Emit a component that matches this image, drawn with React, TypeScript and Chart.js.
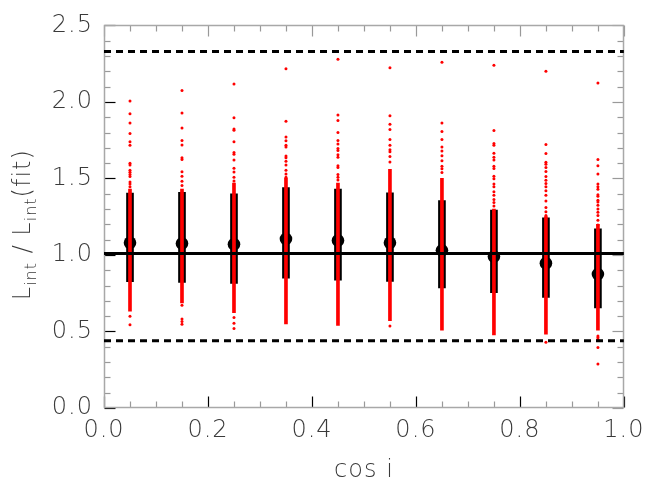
import { useEffect, useRef } from "react";
import { Chart, registerables } from "chart.js";

Chart.register(...registerables);

// ---- data ----
const binCenters = [0.05, 0.15, 0.25, 0.35, 0.45, 0.55, 0.65, 0.75, 0.85, 0.95];
const binMeans = [1.08, 1.075, 1.07, 1.105, 1.095, 1.08, 1.03, 0.99, 0.946, 0.875];
const errLow = [0.825, 0.82, 0.814, 0.848, 0.836, 0.827, 0.785, 0.754, 0.723, 0.654];
const errHigh = [1.405, 1.41, 1.4, 1.44, 1.43, 1.406, 1.356, 1.294, 1.242, 1.17];
// dense (continuous-looking) core of the red sample points in each bin
const coreLow = [0.633, 0.686, 0.623, 0.55, 0.54, 0.571, 0.508, 0.477, 0.483, 0.508];
const coreHigh = [1.43, 1.43, 1.47, 1.5, 1.47, 1.56, 1.5, 1.3, 1.25, 1.2];
// individually visible sample points outside the cores
const tailBin1 = [2.006, 1.923, 1.863, 1.794, 1.74, 1.717, 1.6, 1.588, 1.554, 1.54, 1.525, 1.513, 1.477, 1.463, 1.446, 0.6, 0.544];
const tailBin2 = [2.075, 1.927, 1.83, 1.748, 1.719, 1.636, 1.623, 1.544, 1.515, 1.481, 1.454, 0.671, 0.581, 0.565, 0.548];
const tailBin3 = [2.117, 1.896, 1.823, 1.815, 1.74, 1.669, 1.658, 1.621, 1.567, 1.542, 1.508, 1.483, 0.592, 0.554, 0.519];
const tailBin4 = [2.217, 1.873, 1.771, 1.746, 1.717, 1.706, 1.646, 1.636, 1.613, 1.588, 1.554, 1.529, 1.508];
const tailBin5 = [2.279, 1.915, 1.879, 1.8, 1.748, 1.725, 1.696, 1.683, 1.654, 1.638, 1.583, 1.571, 1.525, 1.508, 1.49];
const tailBin6 = [2.223, 1.91, 1.854, 1.819, 1.754, 1.717, 1.688, 1.675, 1.644, 1.608, 0.535];
const tailBin7 = [2.26, 1.863, 1.806, 1.754, 1.706, 1.679, 1.648, 1.615, 1.579, 1.563, 1.538];
const tailBin8 = [2.24, 1.813, 1.729, 1.717, 1.665, 1.638, 1.621, 1.58, 1.565, 1.515, 1.498, 1.463, 1.446, 1.413, 1.39, 1.363, 1.342, 1.32];
const tailBin9 = [2.2, 1.721, 1.663, 1.606, 1.592, 1.571, 1.546, 1.513, 1.488, 1.467, 1.446, 1.419, 1.39, 1.352, 1.31, 1.283, 1.258, 0.429];
const tailBin10 = [2.123, 1.623, 1.583, 1.529, 1.463, 1.446, 1.429, 1.394, 1.383, 1.358, 1.346, 1.325, 1.3, 1.279, 1.258, 1.227, 1.196, 0.47, 0.46, 0.45, 0.396, 0.288];
const tails = [tailBin1, tailBin2, tailBin3, tailBin4, tailBin5, tailBin6, tailBin7, tailBin8, tailBin9, tailBin10];
const refLevel = 1.01;
const upperLevel = 2.33;
const lowerLevel = 0.44;
const xRange = [0, 1];
const yRange = [0, 2.5];

const FONT = "'DejaVu Sans', sans-serif";
const TEXT = "#3a3a3a";

const framePlugin = {
  id: "idlFrame",
  beforeDatasetsDraw(chart: any) {
    const { ctx, chartArea: a, scales } = chart;
    const xs = scales.x;
    const ys = scales.y;
    const seg = (x1: number, y1: number, x2: number, y2: number, c: string) => {
      ctx.strokeStyle = c;
      ctx.beginPath();
      ctx.moveTo(x1, y1);
      ctx.lineTo(x2, y2);
      ctx.stroke();
    };
    ctx.save();
    ctx.lineWidth = 1.2;
    const L = Math.round(a.left) + 0.5;
    const R = Math.round(a.right) - 0.5;
    const T = Math.round(a.top) + 0.5;
    const B = Math.round(a.bottom) - 0.5;
    for (let i = 0; i <= 25; i++) {
      const py = Math.round(ys.getPixelForValue(i / 10)) + 0.5;
      const major = i % 5 === 0;
      const len = major ? 11 : 6;
      seg(L, py, L + len, py, major ? "#000" : "#999");
      seg(R, py, R - len, py, "#999");
    }
    for (let i = 0; i <= 20; i++) {
      const px = Math.round(xs.getPixelForValue(i / 20)) + 0.5;
      const major = i % 4 === 0;
      const len = major ? 11 : 6;
      seg(px, B, px, B - len, major ? "#000" : "#999");
      seg(px, T, px, T + len, "#999");
    }
    ctx.lineWidth = 1.5;
    ctx.strokeStyle = "#a8a8a8";
    ctx.strokeRect(L, T, R - L, B - T);
    ctx.restore();
  },
  afterDraw(chart: any) {
    const { ctx, chartArea: a } = chart;
    ctx.save();
    ctx.fillStyle = TEXT;
    ctx.textBaseline = "alphabetic";
    ctx.textAlign = "left";
    const big = `200 24px ${FONT}`;
    const small = `200 16px ${FONT}`;
    const parts: [string, string, number][] = [
      ["L", big, 0],
      ["int", small, 6],
      [" / ", big, 0],
      ["L", big, 0],
      ["int", small, 6],
      ["(fit)", big, 0],
    ];
    (ctx as any).letterSpacing = "1px";
    let total = 0;
    for (const [t, f] of parts) {
      ctx.font = f;
      total += ctx.measureText(t).width;
    }
    const cy = (a.top + a.bottom) / 2 + 8;
    ctx.translate(30, cy);
    ctx.rotate(-Math.PI / 2);
    let x = -total / 2;
    for (const [t, f, dy] of parts) {
      ctx.font = f;
      ctx.fillText(t, x, dy);
      x += ctx.measureText(t).width;
    }
    ctx.restore();
  },
  beforeDraw(chart: any) {
    (chart.ctx as any).letterSpacing = "1px";
  },
};

export default function App() {
  const ref = useRef<HTMLCanvasElement>(null);
  useEffect(() => {
    document.body.style.margin = "0";
    const points = tails.flatMap((arr, i) => arr.map((v) => ({ x: binCenters[i], y: v })));
    const chart = new Chart(ref.current!, {
      type: "scatter",
      data: {
        datasets: [
          {
            type: "line",
            data: xRange.map((x) => ({ x, y: refLevel })),
            borderColor: "#000",
            borderWidth: 3,
            pointRadius: 0,
            order: 0,
          } as any,
          {
            type: "line",
            data: xRange.map((x) => ({ x, y: upperLevel })),
            borderColor: "#000",
            borderWidth: 3,
            borderDash: [7, 5],
            pointRadius: 0,
            order: 0,
          },
          {
            type: "line",
            data: xRange.map((x) => ({ x, y: lowerLevel })),
            borderColor: "#000",
            borderWidth: 3,
            borderDash: [7, 5],
            pointRadius: 0,
            order: 0,
          },
          {
            type: "scatter",
            data: points,
            backgroundColor: "#ff0000",
            borderWidth: 0,
            pointRadius: 1.5,
            order: 1,
          },
          {
            type: "bar",
            data: binCenters.map((x, i) => ({ x, y: [coreLow[i], coreHigh[i]] })),
            backgroundColor: "#ff0000",
            barThickness: 3,
            grouped: false,
            order: 2,
          } as any,
          {
            type: "scatter",
            data: binCenters.map((x, i) => ({ x, y: binMeans[i] })),
            backgroundColor: "#000",
            borderWidth: 0,
            pointRadius: 6.3,
            order: 3,
          },
          {
            type: "bar",
            data: binCenters.map((x, i) => ({ x, y: [errLow[i], errHigh[i]] })),
            backgroundColor: "#000",
            barThickness: 7,
            grouped: false,
            order: 4,
          } as any,
        ],
      },
      options: {
        responsive: false,
        animation: false,
        layout: { padding: { top: 8, right: 21, left: 0, bottom: 0 } },
        plugins: { legend: { display: false }, tooltip: { enabled: false } },
        scales: {
          x: {
            type: "linear",
            min: xRange[0],
            max: xRange[1],
            offset: false,
            grid: { display: false, drawTicks: false },
            border: { display: false },
            ticks: {
              stepSize: 0.2,
              maxRotation: 0,
              autoSkip: false,
              padding: 8,
              color: TEXT,
              font: { family: FONT, size: 24, weight: "200" as any },
              callback: (v: any) => Number(v).toFixed(1),
            },
            title: {
              display: true,
              text: "cos i",
              color: TEXT,
              font: { family: FONT, size: 24, weight: "200" as any },
              padding: { top: 0, bottom: 0 },
            },
            afterFit: (s: any) => {
              s.height = 77;
            },
          },
          y: {
            type: "linear",
            min: yRange[0],
            max: yRange[1],
            grid: { display: false, drawTicks: false },
            border: { display: false },
            ticks: {
              stepSize: 0.5,
              padding: 11,
              color: TEXT,
              font: { family: FONT, size: 24, weight: "200" as any },
              callback: (v: any) => Number(v).toFixed(1),
            },
            afterFit: (s: any) => {
              s.width = 104;
            },
          },
        },
      },
      plugins: [framePlugin],
    });
    return () => chart.destroy();
  }, []);
  return (
    <div style={{ width: 651, height: 485 }}>
      <canvas ref={ref} width={651} height={485} />
    </div>
  );
}
